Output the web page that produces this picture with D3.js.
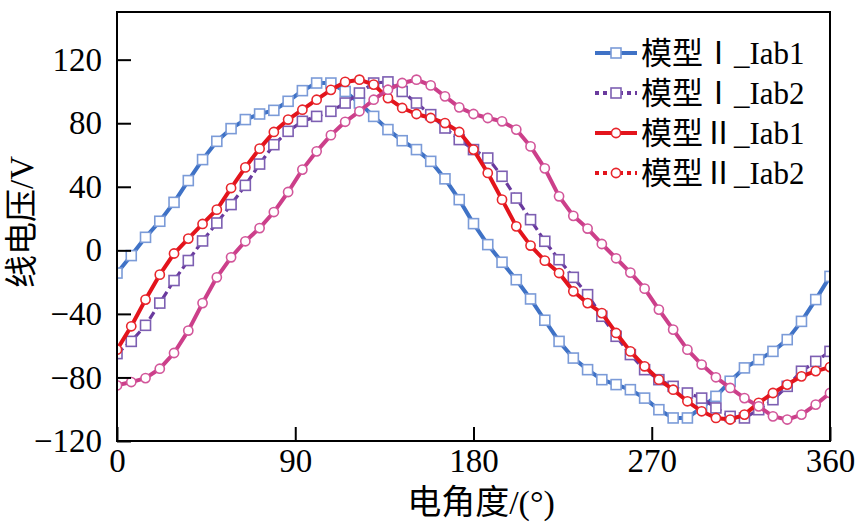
<!DOCTYPE html>
<html>
<head>
<meta charset="utf-8">
<script src="https://cdn.jsdelivr.net/npm/d3@7"></script>
<style>
  html, body { margin: 0; padding: 0; background: #fff; }
  svg { display: block; }
  text { font-family: "Liberation Serif", "Times New Roman", Times, Tinos, "DejaVu Serif", "Noto Sans CJK SC", serif; fill: #000; }
</style>
</head>
<body>
<svg id="chart" width="856" height="527"></svg>
<script>
// ---- data ----
const angles = [0, 7.2, 14.4, 21.6, 28.8, 36, 43.2, 50.4, 57.6, 64.8, 72, 79.2, 86.4, 93.6, 100.8, 108,
  115.2, 122.4, 129.6, 136.8, 144, 151.2, 158.4, 165.6, 172.8, 180, 187.2, 194.4, 201.6, 208.8, 216,
  223.2, 230.4, 237.6, 244.8, 252, 259.2, 266.4, 273.6, 280.8, 288, 295.2, 302.4, 309.6, 316.8, 324,
  331.2, 338.4, 345.6, 352.8, 360];

const model1Iab1 = [-14.3, -3.3, 8.2, 18.3, 30.2, 43.9, 57.1, 68.6, 76.6, 82.3, 85.8, 88.1, 93.8, 100.5, 105.3, 105.3,
  100, 92.7, 84.3, 76, 69, 63.4, 56, 45, 31.9, 16.8, 3.6, -7.5, -18.5, -30.6, -44,
  -57.3, -67.8, -75.1, -81.4, -84.5, -87.7, -93, -100.3, -105.5, -105.5, -99, -91.9, -82.4, -74, -68.8,
  -63.6, -56.2, -44.7, -31, -16.4];

const model1Iab2 = [-65, -57.3, -47.2, -33.2, -19, -6.4, 5.9, 17.2, 28.8, 40.9, 54.3, 66.5, 74.9, 81.2, 84.3, 87.5,
  92.7, 99, 105.3, 106, 100, 92.7, 85.4, 77, 69.7, 63.4, 58.1, 46.6, 32.9, 19.3, 5.7,
  -5.9, -17, -27.9, -41.5, -54.1, -65.6, -75.1, -81.4, -85.6, -89.8, -93, -99.2, -104.5, -105.5, -100.3,
  -94, -85.6, -76.1, -69.9, -63.6];

const model2Iab1 = [-62.5, -47.8, -31, -15.3, -2, 7.4, 16.6, 25.6, 39.2, 52.2, 64, 74.5, 82.3, 88.5, 94.8, 101,
  106, 107.4, 104.3, 95.8, 89.6, 85.8, 83.3, 80.1, 74.5, 63.4, 48.7, 31.9, 15.1, 3, -6.5,
  -14.3, -25.8, -33.2, -39.5, -52, -63.6, -73, -81.4, -87.7, -95, -101.3, -105.5, -106.5, -103.4, -96,
  -89.8, -84.5, -79.3, -76, -73.5];

const model2Iab2 = [-85, -82.9, -80.4, -74.5, -64.6, -50.5, -33.2, -17, -4.4, 5.7, 14, 24.1, 36.7, 50.8, 62.3, 72.5,
  80.9, 87.5, 94.8, 101.1, 105.3, 107.4, 103.8, 96.9, 90, 85.8, 83.3, 81.2, 76, 65.4, 51.6,
  34, 21.7, 13.7, 4, -5, -14, -24.1, -37.3, -49.9, -62.5, -71.9, -79.9, -86.6, -93, -98.2,
  -104.5, -106.5, -103.4, -97.1, -89.8];

const seriesModel = ["模型Ⅰ", "模型Ⅰ", "模型Ⅱ", "模型Ⅱ"];
const seriesSuffix = ["_Iab1", "_Iab2", "_Iab1", "_Iab2"];
const xTicks = [0, 90, 180, 270, 360];
const yTicks = [-120, -80, -40, 0, 40, 80, 120];
const xTitle = "电角度/(°)";
const yTitle = "线电压/V";

// ---- styles ----
const styles = [
  { values: model1Iab1, line: "#3f72c6", marker: "square", mstroke: "#7b9bd8", dash: null, width: 4, legLine: "#3f72c6", legDash: null, legMarker: "#7b9bd8" },
  { values: model1Iab2, line: "#6a3a9e", marker: "square", mstroke: "#7d5fb2", dash: "8,4", width: 3.2, legLine: "#6a3a9e", legDash: "4,4", legMarker: "#7d5fb2" },
  { values: model2Iab1, line: "#e3141c", marker: "circle", mstroke: "#e8262c", dash: null, width: 4, legLine: "#e3141c", legDash: null, legMarker: "#e8262c" },
  { values: model2Iab2, line: "#cc3f8a", marker: "circle", mstroke: "#d2569a", dash: null, width: 4, legLine: "#e3141c", legDash: "4,4", legMarker: "#e8262c" }
];

const serifFont = '"Liberation Serif", "Times New Roman", Times, Tinos, "DejaVu Serif", serif';
const cjkFont = '"Noto Sans CJK SC", "Noto Sans CJK JP", sans-serif';
const svg = d3.select("#chart");
const mLeft = 117, mRight = 830, mTop = 12, mBottom = 441;
const x = d3.scaleLinear().domain([0, 360]).range([mLeft, mRight]);
const y = d3.scaleLinear().domain([-120, 150]).range([mBottom, mTop]);

// clip
svg.append("defs").append("clipPath").attr("id", "plotclip")
  .append("rect").attr("x", mLeft).attr("y", mTop).attr("width", mRight - mLeft).attr("height", mBottom - mTop);

const plot = svg.append("g").attr("clip-path", "url(#plotclip)");
const line = d3.line().x((d, i) => x(angles[i])).y(d => y(d));

function drawMarker(g, type, cx, cy, stroke) {
  if (type === "square") {
    g.append("rect").attr("x", cx - 5).attr("y", cy - 5).attr("width", 10).attr("height", 10)
      .attr("fill", "#fff").attr("stroke", stroke).attr("stroke-width", 1.6);
  } else {
    g.append("circle").attr("cx", cx).attr("cy", cy).attr("r", 4.6)
      .attr("fill", "#fff").attr("stroke", stroke).attr("stroke-width", 1.6);
  }
}

styles.forEach(s => {
  const g = plot.append("g");
  g.append("path").datum(s.values).attr("d", line).attr("fill", "none")
    .attr("stroke", s.line).attr("stroke-width", s.width)
    .attr("stroke-dasharray", s.dash).attr("stroke-linejoin", "round");
  s.values.forEach((v, i) => drawMarker(g, s.marker, x(angles[i]), y(v), s.mstroke));
});

// frame
svg.append("rect").attr("x", mLeft).attr("y", mTop).attr("width", mRight - mLeft).attr("height", mBottom - mTop)
  .attr("fill", "none").attr("stroke", "#000").attr("stroke-width", 2);

// axes
const yAxis = svg.append("g").attr("transform", `translate(${mLeft},0)`)
  .call(d3.axisLeft(y).tickValues(yTicks).tickSize(-14).tickPadding(15).tickFormat(d3.format("d")));
const xAxis = svg.append("g").attr("transform", `translate(0,${mBottom})`)
  .call(d3.axisBottom(x).tickValues(xTicks).tickSize(-14).tickPadding(8).tickFormat(d3.format("d")));
[xAxis, yAxis].forEach(a => {
  a.attr("font-family", null);
  a.select(".domain").remove();
  a.selectAll(".tick line").attr("stroke", "#000").attr("stroke-width", 2);
  a.selectAll(".tick text").attr("font-size", 33).attr("fill", "#000")
    .style("font-family", serifFont);
});

// titles
svg.append("text").attr("x", 481).attr("y", 514).attr("text-anchor", "middle")
  .attr("font-size", 34).text(xTitle);
svg.append("text").attr("transform", "translate(33,222) rotate(-90)").attr("text-anchor", "middle")
  .attr("font-size", 33).text(yTitle);

// legend
const legendY = [53, 93, 133, 173];
const leg = svg.append("g");
styles.forEach((s, i) => {
  const cy = legendY[i];
  leg.append("line").attr("x1", 595).attr("x2", 637).attr("y1", cy).attr("y2", cy)
    .attr("stroke", s.legLine).attr("stroke-width", 4).attr("stroke-dasharray", s.legDash);
  drawMarker(leg, s.marker, 616, cy, s.legMarker);
  const t = leg.append("text").attr("x", 641).attr("y", cy + 11).attr("font-size", 31);
  t.append("tspan").style("font-family", cjkFont).text(seriesModel[i]);
  t.append("tspan").style("font-family", serifFont).text(seriesSuffix[i]);
});
</script>
</body>
</html>
